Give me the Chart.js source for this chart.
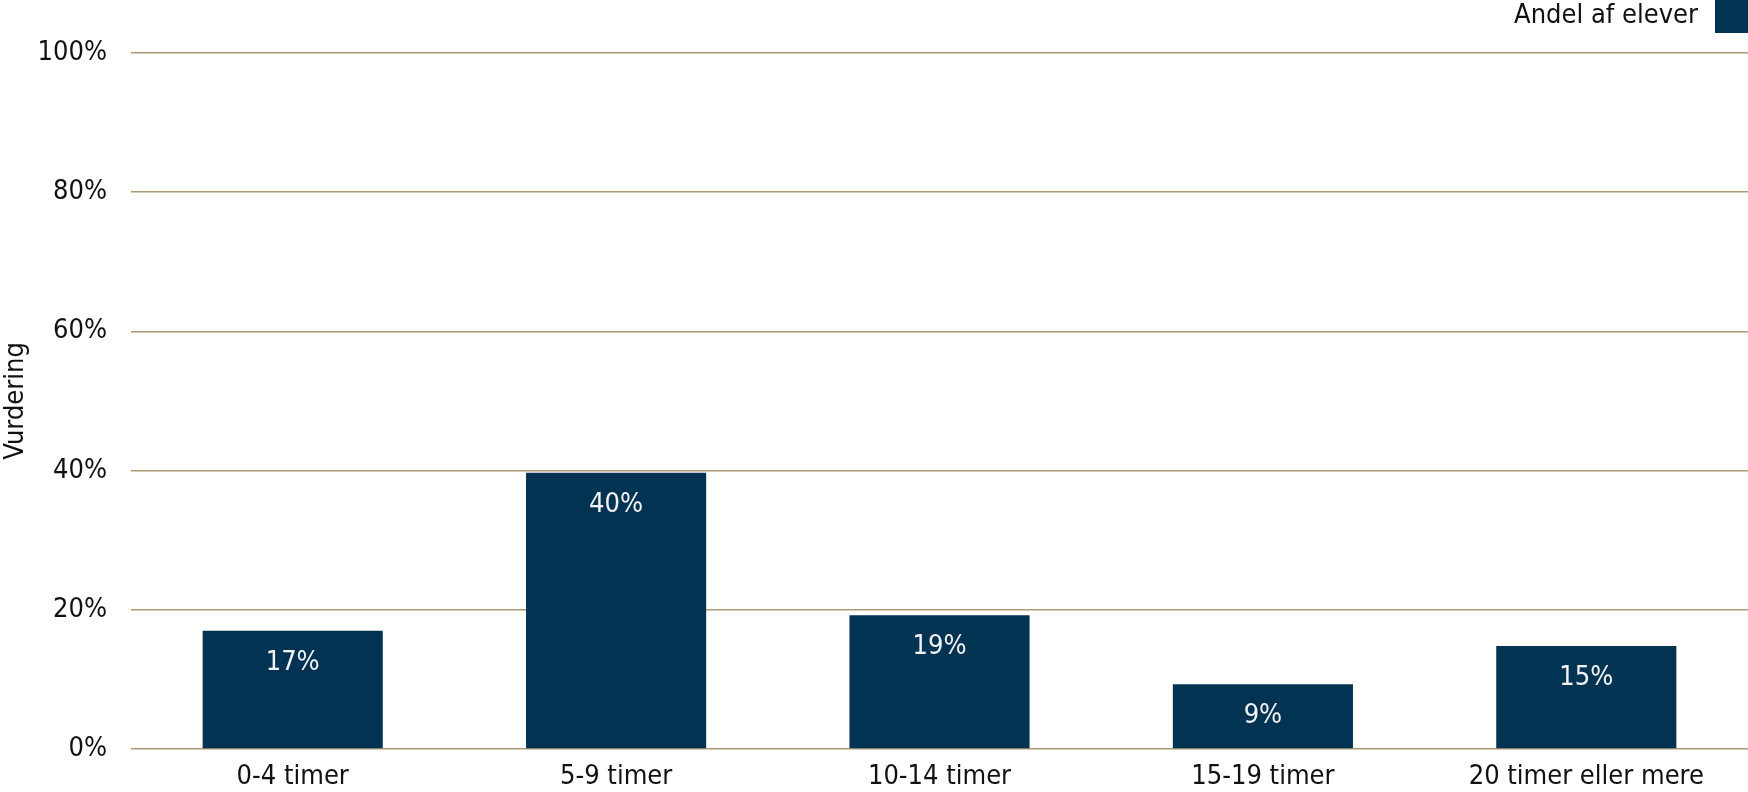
<!DOCTYPE html>
<html>
<head>
<meta charset="utf-8">
<script src="https://cdn.jsdelivr.net/npm/chart.js@4"></script>
<style>
  html, body { margin: 0; padding: 0; background: #fff; }
  #wrap { width: 1748px; height: 792px; }
</style>
</head>
<body>
<div id="wrap"><canvas id="myChart"></canvas></div>
<script>
// data
const categories = ['0-4 timer', '5-9 timer', '10-14 timer', '15-19 timer', '20 timer eller mere'];
const andel = [17.0, 39.7, 19.2, 9.3, 14.8];
const yTicks = [0, 20, 40, 60, 80, 100];
const seriesName = 'Andel af elever';
const axisTitle = 'Vurdering';

const FONT = "'DejaVu Sans Condensed', 'DejaVu Sans', sans-serif";
const barColor = '#033352';
const gridColor = '#ab9c75';

// values written at the top inside each bar
const barLabels = {
  id: 'barLabels',
  afterDatasetsDraw(chart) {
    const ctx = chart.ctx;
    const meta = chart.getDatasetMeta(0);
    ctx.save();
    ctx.font = '27px ' + FONT;
    ctx.fillStyle = '#f2f2f2';
    ctx.textAlign = 'center';
    ctx.textBaseline = 'middle';
    meta.data.forEach((bar, i) => {
      ctx.fillText(Math.round(andel[i]) + '%', bar.x, bar.y + 32);
    });
    ctx.restore();
  }
};

// legend in the top right corner
const cornerLegend = {
  id: 'cornerLegend',
  afterDraw(chart) {
    const ctx = chart.ctx;
    ctx.save();
    ctx.fillStyle = barColor;
    ctx.fillRect(1715, 0, 33, 33);
    ctx.font = '27px ' + FONT;
    ctx.fillStyle = '#111';
    ctx.textAlign = 'right';
    ctx.textBaseline = 'middle';
    ctx.fillText(chart.data.datasets[0].label, 1698, 16);
    ctx.restore();
  }
};

const ctx = document.getElementById('myChart').getContext('2d');
const myChart = new Chart(ctx, {
  type: 'bar',
  data: {
    labels: categories,
    datasets: [{
      label: seriesName,
      data: andel,
      backgroundColor: barColor,
      borderWidth: 0,
      barPercentage: 0.557,
      categoryPercentage: 1
    }]
  },
  options: {
    responsive: true,
    maintainAspectRatio: false,
    animation: false,
    layout: { padding: { top: 53, right: 0, left: 0, bottom: 0 } },
    plugins: {
      legend: { display: false },
      tooltip: { enabled: false }
    },
    scales: {
      x: {
        grid: { display: false, drawTicks: false },
        border: { display: false },
        ticks: {
          color: '#111',
          font: { family: FONT, size: 27 },
          padding: 12,
          maxRotation: 0
        },
        afterFit(scale) { scale.height = 43; }
      },
      y: {
        min: 0,
        max: 100,
        afterBuildTicks(scale) { scale.ticks = yTicks.map(v => ({ value: v })); },
        grid: { color: gridColor, lineWidth: 1.5, drawTicks: false },
        border: { display: false },
        ticks: {
          color: '#111',
          font: { family: FONT, size: 27 },
          padding: 24,
          callback: v => v + '%'
        },
        title: {
          display: true,
          text: axisTitle,
          color: '#111',
          font: { family: FONT, size: 27 },
          padding: { top: 0, bottom: 0 }
        },
        afterFit(scale) { scale.width = 131; }
      }
    }
  },
  plugins: [barLabels, cornerLegend]
});
</script>
</body>
</html>
